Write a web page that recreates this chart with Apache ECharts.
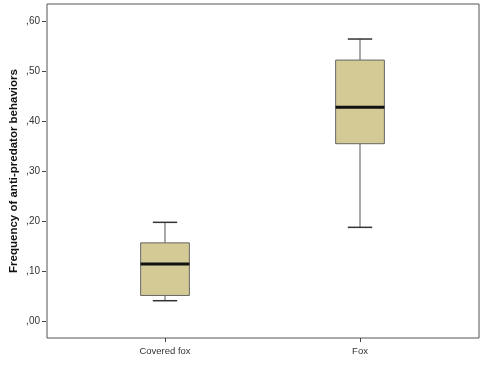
<!DOCTYPE html>
<html><head><meta charset="utf-8">
<script src="https://cdn.jsdelivr.net/npm/echarts@6/dist/echarts.min.js"></script>
<style>html,body{margin:0;padding:0;background:#fff}#c{width:483px;height:388px}</style>
</head><body><div id="c"></div>
<script>
const categories = ['Covered fox', 'Fox'];
const whiskerLow = [0.0415, 0.188];
const q1 = [0.052, 0.355];
const median = [0.115, 0.428];
const q3 = [0.157, 0.522];
const whiskerHigh = [0.198, 0.564];
const yTicks = [0, 0.1, 0.2, 0.3, 0.4, 0.5, 0.6];
const yTitle = 'Frequency of anti-predator behaviors';

const data = categories.map((c, i) => [i, whiskerLow[i], q1[i], median[i], q3[i], whiskerHigh[i]]);
const fmt = v => ',' + Math.round(v * 100).toString().padStart(2, '0');
const font = 'Liberation Sans, Arial';

const chart = echarts.init(document.getElementById('c'));
chart.setOption({
  animation: false,
  backgroundColor: '#fff',
  grid: [
    {left: 67.5, right: 25.5, top: 21, bottom: 66.5},
    {left: 46, right: 4, top: 4, bottom: 50, show: true, borderColor: '#555', borderWidth: 1, backgroundColor: 'transparent'},
    {left: 46, right: 4, top: 21, bottom: 66.5},
    {left: 67.5, right: 25.5, top: 4, bottom: 50}
  ],
  xAxis: [
    {type: 'category', data: categories, gridIndex: 0, show: false},
    {type: 'value', gridIndex: 1, show: false},
    {type: 'value', gridIndex: 2, show: false},
    {type: 'category', data: categories, gridIndex: 3,
     axisLine: {show: false},
     axisTick: {show: true, alignWithLabel: true, length: 4, lineStyle: {color: '#444'}},
     axisLabel: {color: '#333', fontSize: 9.5, fontFamily: font, margin: 8}}
  ],
  yAxis: [
    {type: 'value', gridIndex: 0, min: 0, max: 0.6, show: false},
    {type: 'value', gridIndex: 1, show: true,
     axisLine: {show: false}, axisTick: {show: false}, axisLabel: {show: false}, splitLine: {show: false},
     name: yTitle, nameLocation: 'middle', nameRotate: 90, nameGap: 27,
     nameTextStyle: {fontSize: 11.5, fontWeight: 'bold', color: '#111', fontFamily: font}},
    {type: 'value', gridIndex: 2, min: yTicks[0], max: yTicks[yTicks.length - 1], interval: 0.1,
     axisLine: {show: false}, splitLine: {show: false},
     axisTick: {show: true, length: 4, lineStyle: {color: '#444'}},
     axisLabel: {color: '#333', fontSize: 10, fontFamily: font, margin: 6, formatter: fmt}},
    {type: 'value', gridIndex: 3, show: false}
  ],
  series: [{
    type: 'custom',
    xAxisIndex: 0, yAxisIndex: 0,
    data: data,
    encode: {x: 0, y: [1, 2, 3, 4, 5]},
    renderItem: function (params, api) {
      const x = api.value(0);
      const pMin = api.coord([x, api.value(1)]);
      const pQ1 = api.coord([x, api.value(2)]);
      const pMed = api.coord([x, api.value(3)]);
      const pQ3 = api.coord([x, api.value(4)]);
      const pMax = api.coord([x, api.value(5)]);
      const bw = api.size([1, 0])[0] * 0.25;
      const cx = pMed[0];
      const half = bw / 2, capHalf = bw / 4;
      const line = (x1, y1, x2, y2, color, w) => ({type: 'line', shape: {x1, y1, x2, y2}, style: {stroke: color, lineWidth: w}});
      return {type: 'group', children: [
        line(cx, pQ3[1], cx, pMax[1], '#555', 1),
        line(cx, pQ1[1], cx, pMin[1], '#555', 1),
        line(cx - capHalf, pMax[1], cx + capHalf, pMax[1], '#333', 1.5),
        line(cx - capHalf, pMin[1], cx + capHalf, pMin[1], '#333', 1.5),
        {type: 'rect', shape: {x: cx - half, y: pQ3[1], width: bw, height: pQ1[1] - pQ3[1]},
         style: {fill: '#d3ca95', stroke: '#666', lineWidth: 1}},
        line(cx - half, pMed[1], cx + half, pMed[1], '#111', 3)
      ]};
    }
  }]
});
</script></body></html>
